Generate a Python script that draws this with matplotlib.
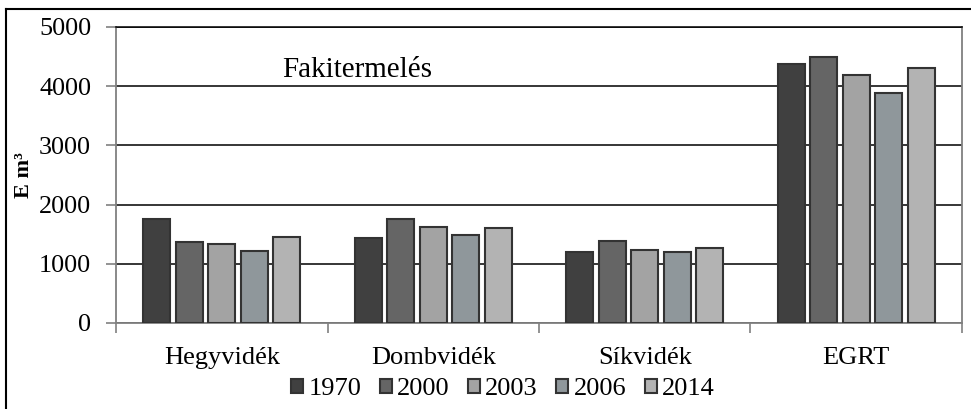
import matplotlib
matplotlib.use("Agg")
import matplotlib.pyplot as plt
import numpy as np
from matplotlib.lines import Line2D

# data
regions = ["Hegyvidék", "Dombvidék", "Síkvidék", "EGRT"]
years = ["1970", "2000", "2003", "2006", "2014"]
v1970 = [1760, 1440, 1200, 4380]
v2000 = [1370, 1750, 1390, 4500]
v2003 = [1330, 1620, 1240, 4190]
v2006 = [1210, 1490, 1200, 3890]
v2014 = [1460, 1600, 1260, 4300]
series = [v1970, v2000, v2003, v2006, v2014]
yticks = [0, 1000, 2000, 3000, 4000, 5000]

colors = ["#404040", "#656565", "#a3a3a3", "#8f979b", "#b3b3b3"]
edge = "#333333"

plt.rcParams["font.family"] = ["Liberation Serif", "DejaVu Serif"]

fig = plt.figure(figsize=(9.71, 4.09), dpi=100)
ax = fig.add_axes([0.1195, 0.2103, 0.8712, 0.7237])

x = np.arange(len(regions))
w = 0.128
pitch = 0.154
for i, vals in enumerate(series):
    ax.bar(x + (i - 2) * pitch, vals, width=w, color=colors[i],
           edgecolor=edge, linewidth=1.5, zorder=3, label=years[i])

ax.set_xlim(-0.5, 3.5)
ax.set_ylim(0, 5000)
ax.set_yticks(yticks)
ax.set_yticklabels([str(t) for t in yticks], fontsize=18.8)
ax.yaxis.grid(True, color="black", linewidth=1.1)
ax.set_axisbelow(True)

ax.set_xticks(x)
ax.set_xticklabels(regions, fontsize=19)
ax.set_xticks(np.arange(-0.5, 4.0, 1.0), minor=True)
ax.tick_params(axis="x", which="major", length=0, pad=17)
ax.tick_params(axis="x", which="minor", length=7, width=1.2, color="#808080", direction="out")
ax.tick_params(axis="y", length=7, width=1.2, color="#808080", direction="out", pad=11)

for side in ["left", "bottom", "right"]:
    ax.spines[side].set_color("#808080")
    ax.spines[side].set_linewidth(1.3)
ax.spines["top"].set_color("black")
ax.spines["top"].set_linewidth(1.1)

ax.set_ylabel("E m³", fontsize=16, fontweight="bold")
ax.yaxis.set_label_coords(-0.097, 0.5)

ax.text(0.285, 0.855, "Fakitermelés", transform=ax.transAxes, fontsize=21,
        ha="center", va="center")

handles = [plt.Rectangle((0, 0), 1, 1, facecolor=c, edgecolor=edge, linewidth=1.5)
           for c in colors]
fig.legend(handles, years, loc="center", bbox_to_anchor=(503 / 971, 1 - 389 / 409),
           ncol=5, frameon=False, fontsize=19, handlelength=0.45, handleheight=0.45,
           handletextpad=0.2, columnspacing=0.7, borderaxespad=0)

# outer frame (top and left visible in the reference)
fig.add_artist(Line2D([6 / 971, 1.0], [1 - 9 / 409, 1 - 9 / 409],
                      transform=fig.transFigure, color="black", linewidth=1.5))
fig.add_artist(Line2D([6 / 971, 6 / 971], [0, 1 - 9 / 409],
                      transform=fig.transFigure, color="black", linewidth=1.5))

fig.savefig("out.png", dpi=100)
